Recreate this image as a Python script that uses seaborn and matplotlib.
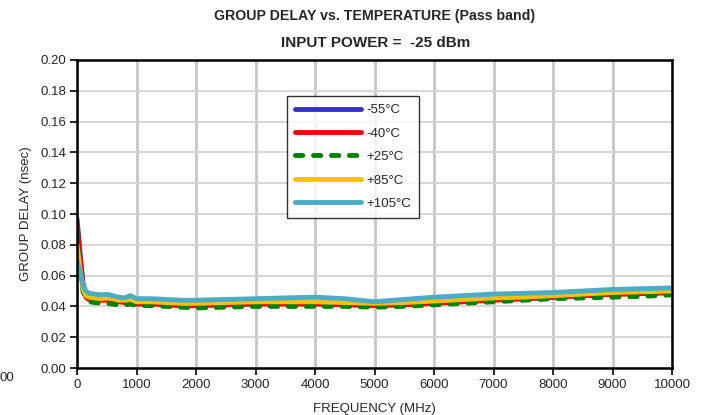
import numpy as np
import pandas as pd
import matplotlib
matplotlib.use("Agg")
import matplotlib.pyplot as plt
import seaborn as sns

# ================= DATA =================
freq = [0, 50, 100, 150, 200, 300, 400, 500, 600, 700, 800, 900, 1000,
        1250, 1500, 1750, 2000, 2500, 3000, 3500, 4000, 4500, 5000, 5500,
        6000, 6500, 7000, 7500, 8000, 8500, 9000, 9500, 10000]

gd_m55 = [0.097, 0.075, 0.055, 0.047, 0.045, 0.045, 0.0445, 0.0445, 0.044, 0.0435, 0.043,
          0.0435, 0.042, 0.042, 0.0415, 0.041, 0.041, 0.041, 0.042, 0.042, 0.042, 0.0415,
          0.041, 0.0415, 0.0425, 0.0435, 0.0445, 0.045, 0.046, 0.047, 0.048, 0.0485, 0.049]
gd_m40 = [0.093, 0.072, 0.054, 0.046, 0.0445, 0.0445, 0.044, 0.044, 0.0435, 0.043, 0.0425,
          0.043, 0.0415, 0.0415, 0.041, 0.0405, 0.0405, 0.041, 0.0415, 0.0415, 0.0415, 0.041,
          0.0405, 0.041, 0.042, 0.043, 0.044, 0.045, 0.046, 0.047, 0.0478, 0.0483, 0.049]
gd_p25 = [0.087, 0.065, 0.050, 0.045, 0.043, 0.0425, 0.042, 0.042, 0.0415, 0.041, 0.041,
          0.0415, 0.0405, 0.0405, 0.040, 0.0395, 0.039, 0.0395, 0.040, 0.040, 0.040, 0.040,
          0.0395, 0.040, 0.041, 0.042, 0.043, 0.044, 0.045, 0.0455, 0.046, 0.0465, 0.0475]
gd_p85 = [0.080, 0.064, 0.052, 0.047, 0.046, 0.0455, 0.045, 0.0455, 0.045, 0.044, 0.044,
          0.0445, 0.043, 0.043, 0.0425, 0.042, 0.042, 0.0425, 0.043, 0.043, 0.043, 0.0425,
          0.042, 0.0425, 0.0435, 0.0445, 0.0455, 0.046, 0.047, 0.048, 0.049, 0.0495, 0.050]
gd_p105 = [0.070, 0.062, 0.054, 0.050, 0.0485, 0.048, 0.0475, 0.0478, 0.047, 0.046, 0.0455,
           0.047, 0.045, 0.045, 0.0445, 0.044, 0.044, 0.0445, 0.045, 0.0455, 0.046, 0.045,
           0.043, 0.0445, 0.046, 0.047, 0.048, 0.0485, 0.049, 0.050, 0.051, 0.0515, 0.052]

labels = ["-55°C", "-40°C", "+25°C", "+85°C", "+105°C"]
series = [gd_m55, gd_m40, gd_p25, gd_p85, gd_p105]
colors = ["#3333cc", "#ff0000", "#008000", "#ffc000", "#4bacc6"]

x_ticks = [0, 1000, 2000, 3000, 4000, 5000, 6000, 7000, 8000, 9000, 10000]
y_ticks = [0.00, 0.02, 0.04, 0.06, 0.08, 0.10, 0.12, 0.14, 0.16, 0.18, 0.20]

# ================= STYLE =================
sns.set_style("white")
plt.rcParams["font.family"] = ["Liberation Sans", "DejaVu Sans"]

fig = plt.figure(figsize=(7.07, 4.15), dpi=100)
ax = fig.add_axes([77 / 707, 47 / 415, 595 / 707, 308 / 415])

for lab, vals, col in zip(labels, series, colors):
    if lab == "+25°C":
        sns.lineplot(x=freq, y=vals, ax=ax, color=col, lw=3.5, label=lab,
                     linestyle=(0, (1.5, 2.2)), dash_capstyle="round")
    else:
        sns.lineplot(x=freq, y=vals, ax=ax, color=col, lw=3.5, label=lab,
                     solid_capstyle="round")

ax.set_xlim(0, 10000)
ax.set_ylim(0, 0.20)
ax.set_xticks(x_ticks)
ax.set_yticks(y_ticks)
ax.set_yticklabels([f"{v:.2f}" for v in y_ticks])
ax.tick_params(axis="both", direction="out", length=5, width=1.2, color="black",
               labelsize=9.5, pad=3, left=True, bottom=True)

ax.grid(axis="x", color="#c8c8c8", lw=2)
ax.grid(axis="y", color="#d4d4d4", lw=1.3)
ax.set_axisbelow(True)
for sp in ax.spines.values():
    sp.set_color("black")
    sp.set_linewidth(1.8)

ax.set_xlabel("")
ax.set_ylabel("GROUP DELAY (nsec)", fontsize=9.5, labelpad=6)

leg = ax.legend(loc="upper left", bbox_to_anchor=(0.353, 0.883), fontsize=9.5,
                frameon=True, fancybox=False, handlelength=5.0, labelspacing=0.85,
                borderpad=0.6, handletextpad=0.4, borderaxespad=0)
leg.get_frame().set_edgecolor("black")
leg.get_frame().set_linewidth(1.0)

# ================= TITLE / LABELS =================
fig.text(374.5 / 707, 1 - 16 / 415, "GROUP DELAY vs. TEMPERATURE (Pass band)",
         ha="center", va="center", fontsize=10.2, fontweight="bold")
fig.text(376 / 707, 1 - 43 / 415, "INPUT POWER =  -25 dBm",
         ha="center", va="center", fontsize=11, fontweight="bold")
fig.text(374.5 / 707, 1 - 409 / 415, "FREQUENCY (MHz)", ha="center", va="center",
         fontsize=9.5)
fig.text(14 / 707, 1 - 378 / 415, "00", ha="right", va="center", fontsize=9.5)

fig.savefig("out.png", dpi=100)
